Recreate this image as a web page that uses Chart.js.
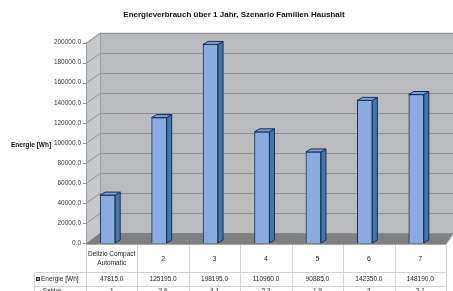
<!DOCTYPE html>
<html>
<head>
<meta charset="utf-8">
<script src="https://cdn.jsdelivr.net/npm/chart.js@4/dist/chart.umd.min.js"></script>
<style>
html,body{margin:0;padding:0;background:#fff;}
canvas{display:block;}
</style>
</head>
<body>
<canvas id="c" width="453" height="291"></canvas>
<script>
const categories = [['Delizio Compact', 'Automatic'], '2', '3', '4', '5', '6', '7'];
const energie = [47815.0, 125195.0, 198195.0, 110960.0, 90885.0, 142350.0, 148190.0];
const faktor = ['1', '2.6', '4.1', '2.3', '1.9', '3', '3.1'];
const yTicks = [0, 20000, 40000, 60000, 80000, 100000, 120000, 140000, 160000, 180000, 200000];
const titleText = 'Energieverbrauch über 1 Jahr, Szenario Familien Haushalt';
const seriesName = 'Energie [Wh]';
const rowName2 = 'Faktor';

const FONT = '"Liberation Sans", Arial, sans-serif';
const DX = 14, DY = -10;      // depth of walls
const BDX = 5, BDY = -3;      // depth of bars
const SHIFT = 4;              // front plane offset vs bar plane

const plot3d = {
  id: 'plot3d',
  afterLayout(chart) {
    if (chart.titleBlock) {
      chart.titleBlock.left = 15;
      chart.titleBlock.right = 453;
    }
  },
  beforeDatasetsDraw(chart) {
    const ctx = chart.ctx, ca = chart.chartArea, ys = chart.scales.y;
    const L = ca.left + SHIFT, R = ca.right + SHIFT;
    const B = ys.getPixelForValue(0), T = ys.getPixelForValue(200000);
    const W = chart.width;
    ctx.save();
    // back wall
    ctx.fillStyle = '#b9bbbe';
    ctx.fillRect(L + DX, T + DY, W - (L + DX), B - T);
    // side wall
    ctx.fillStyle = '#c6c8cb';
    ctx.beginPath();
    ctx.moveTo(L, B); ctx.lineTo(L, T); ctx.lineTo(L + DX, T + DY); ctx.lineTo(L + DX, B + DY);
    ctx.closePath(); ctx.fill();
    // gridlines
    ctx.strokeStyle = '#8e9195';
    ctx.lineWidth = 1;
    yTicks.forEach(v => {
      const y = Math.round(ys.getPixelForValue(v)) + 0.5;
      ctx.beginPath();
      ctx.moveTo(L - 3, y); ctx.lineTo(L, y); ctx.lineTo(L + DX, y + DY); ctx.lineTo(W, y + DY);
      ctx.stroke();
    });
    // wall edges
    ctx.strokeStyle = '#9a9da1';
    ctx.beginPath();
    ctx.moveTo(L + 0.5, B); ctx.lineTo(L + 0.5, T);
    ctx.moveTo(L + DX + 0.5, B + DY); ctx.lineTo(L + DX + 0.5, T + DY);
    ctx.stroke();
    // floor
    ctx.fillStyle = '#7f8082';
    ctx.beginPath();
    ctx.moveTo(L, B + 1); ctx.lineTo(R, B + 1); ctx.lineTo(W, B + DY + 1); ctx.lineTo(L + DX, B + DY);
    ctx.closePath(); ctx.fill();
    ctx.strokeStyle = '#a8a9ab';
    ctx.beginPath();
    ctx.moveTo(L, B + 1.5); ctx.lineTo(R, B + 1.5); ctx.lineTo(W, B + DY + 1.5);
    ctx.stroke();
    ctx.restore();
  },
  afterDatasetsDraw(chart) {
    const ctx = chart.ctx;
    const meta = chart.getDatasetMeta(0);
    ctx.save();
    ctx.lineWidth = 1;
    ctx.strokeStyle = '#1d2d52';
    meta.data.forEach(bar => {
      const p = bar.getProps(['x', 'y', 'base', 'width'], true);
      const xl = p.x - p.width / 2, xr = p.x + p.width / 2;
      // side face
      ctx.fillStyle = '#3c7aab';
      ctx.beginPath();
      ctx.moveTo(xr, p.y); ctx.lineTo(xr + BDX, p.y + BDY); ctx.lineTo(xr + BDX, p.base + BDY); ctx.lineTo(xr, p.base);
      ctx.closePath(); ctx.fill(); ctx.stroke();
      // top face
      ctx.fillStyle = '#76a0dc';
      ctx.beginPath();
      ctx.moveTo(xl, p.y); ctx.lineTo(xl + BDX, p.y + BDY); ctx.lineTo(xr + BDX, p.y + BDY); ctx.lineTo(xr, p.y);
      ctx.closePath(); ctx.fill(); ctx.stroke();
    });
    ctx.restore();
  },
  afterDraw(chart) {
    const ctx = chart.ctx, ca = chart.chartArea, xs = chart.scales.x, ys = chart.scales.y;
    const L = ca.left + SHIFT, R = ca.right + SHIFT;
    const B = ys.getPixelForValue(0);
    const H = chart.height;
    const colW = (R - L) / categories.length;
    const rowTop1 = 272, rowTop2 = 286, labelLeft = 34;
    ctx.save();
    ctx.strokeStyle = '#d2d2d2';
    ctx.lineWidth = 1;
    ctx.beginPath();
    for (let i = 0; i <= categories.length; i++) {
      const x = Math.round(L + i * colW) + 0.5;
      ctx.moveTo(x, B + 2); ctx.lineTo(x, H);
    }
    ctx.moveTo(labelLeft + 0.5, rowTop1); ctx.lineTo(labelLeft + 0.5, H);
    ctx.moveTo(labelLeft, rowTop1 + 0.5); ctx.lineTo(R, rowTop1 + 0.5);
    ctx.moveTo(labelLeft, rowTop2 + 0.5); ctx.lineTo(R, rowTop2 + 0.5);
    ctx.stroke();

    ctx.fillStyle = '#222';
    ctx.textAlign = 'center';
    ctx.textBaseline = 'middle';
    categories.forEach((c, i) => {
      const cx = xs.getPixelForValue(i) + SHIFT;
      if (Array.isArray(c)) {
        ctx.font = '6.5px ' + FONT;
        ctx.fillText(c[0], cx, 254);
        ctx.fillText(c[1], cx, 263);
      } else {
        ctx.font = '7px ' + FONT;
        ctx.fillText(c, cx, 259);
      }
      ctx.font = '6.5px ' + FONT;
      ctx.fillText(energie[i].toFixed(1), cx, 279.5);
      ctx.fillText(faktor[i], cx, 291.5);
    });
    // row labels
    ctx.textAlign = 'left';
    ctx.font = '6.5px ' + FONT;
    ctx.fillStyle = '#8aabe0';
    ctx.fillRect(36, 277, 4, 4);
    ctx.strokeStyle = '#1d2d52';
    ctx.strokeRect(36.5, 277.5, 3, 3);
    ctx.fillStyle = '#222';
    ctx.fillText(seriesName, 41, 279.5);
    ctx.fillText(rowName2, 43, 291.5);
    // y axis title
    ctx.font = 'bold 6.5px ' + FONT;
    ctx.fillStyle = '#111';
    ctx.fillText(seriesName, 11, ys.getPixelForValue(100000) + 2);
    ctx.restore();
  }
};

new Chart(document.getElementById('c'), {
  type: 'bar',
  data: {
    labels: categories,
    datasets: [{
      label: seriesName,
      data: energie,
      backgroundColor: '#8aabe0',
      borderColor: '#1d2d52',
      borderWidth: 1,
      barThickness: 15
    }]
  },
  options: {
    responsive: false,
    animation: false,
    devicePixelRatio: 1,
    layout: { padding: { left: 0, right: 11, top: 0, bottom: 0 } },
    plugins: {
      legend: { display: false },
      tooltip: { enabled: false },
      title: {
        display: true,
        text: titleText,
        color: '#111',
        font: { family: FONT, size: 8, weight: 'bold' },
        padding: { top: 10, bottom: 23 }
      }
    },
    scales: {
      x: {
        grid: { display: false },
        border: { display: false },
        ticks: { display: false },
        afterFit(s) { s.height = 48; }
      },
      y: {
        min: 0,
        max: 200000,
        afterBuildTicks(s) { s.ticks = yTicks.map(v => ({ value: v })); },
        grid: { display: false, drawTicks: false, tickLength: 0 },
        border: { display: false },
        ticks: {
          color: '#333',
          font: { family: FONT, size: 6.5 },
          padding: 1,
          callback: v => Number(v).toFixed(1)
        },
        afterFit(s) { s.width = 82; }
      }
    }
  },
  plugins: [plot3d]
});
</script>
</body>
</html>
